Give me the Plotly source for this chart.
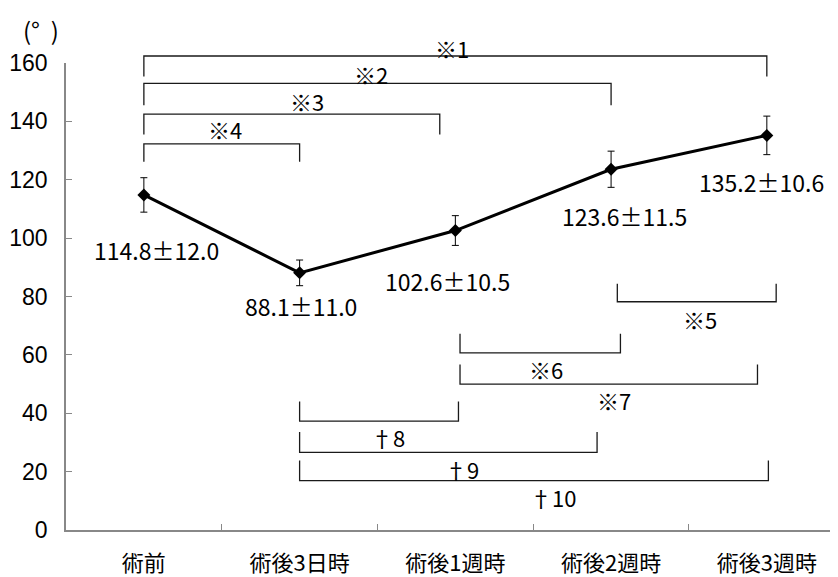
import plotly.graph_objects as go

# ---- data ----
categories = ["術前", "術後3日時", "術後1週時", "術後2週時", "術後3週時"]
means = [114.8, 88.1, 102.6, 123.6, 135.2]
sds = [12.0, 11.0, 10.5, 11.5, 10.6]
err_bars = [5.9, 4.4, 5.1, 6.2, 6.6]
y_ticks = [0, 20, 40, 60, 80, 100, 120, 140, 160]

# significance brackets: (label, x_start, x_end, y_line, y_end, label_x, label_y)
top_brackets = [
    ("※1", 0.0, 4.0, 162.4, 155.4, 1.98, 165.0),
    ("※2", 0.0, 3.0, 153.0, 145.5, 1.46, 156.2),
    ("※3", 0.0, 1.9, 142.5, 135.5, 1.05, 147.0),
    ("※4", 0.0, 1.0, 132.3, 126.2, 0.52, 137.4),
]
bottom_brackets = [
    ("※5", 3.04, 4.06, 78.2, 84.4, 3.57, 72.4),
    ("※6", 2.03, 3.06, 60.7, 67.2, 2.58, 55.2),
    ("※7", 2.03, 3.94, 50.0, 56.7, 3.02, 44.7),
    ("†8", 1.0, 2.02, 37.3, 44.0, 1.57, 31.9),
    ("†9", 1.0, 2.91, 26.6, 33.6, 2.04, 20.9),
    ("†10", 1.0, 4.01, 16.9, 23.8, 2.63, 11.2),
]

X_RANGE = [-0.5, 4.457]
Y_RANGE = [0, 160]


def px(xv):
    return (xv - X_RANGE[0]) / (X_RANGE[1] - X_RANGE[0])


def py(yv):
    return (yv - Y_RANGE[0]) / (Y_RANGE[1] - Y_RANGE[0])


JP = "Noto Sans CJK JP"

fig = go.Figure()
fig.add_trace(go.Scatter(
    x=categories, y=means, mode="lines+markers",
    line=dict(color="black", width=3),
    marker=dict(symbol="diamond", size=10, color="black"),
    error_y=dict(type="data", array=err_bars, visible=True, color="black", thickness=1, width=3.5),
    cliponaxis=False, showlegend=False,
))

shapes = []
annotations = []
line_style = dict(color="#1a1a1a", width=1.3)
for lab, x0, x1, yl, ye, lx, ly in top_brackets + bottom_brackets:
    path = "M {a},{e} L {a},{l} L {b},{l} L {b},{e}".format(
        a=px(x0), b=px(x1), l=py(yl), e=py(ye))
    shapes.append(dict(type="path", xref="paper", yref="paper", path=path, line=line_style))
    annotations.append(dict(text=lab, x=px(lx), y=py(ly), xref="paper", yref="paper",
                            showarrow=False, font=dict(family=JP, size=22, color="black"),
                            xanchor="center", yanchor="middle"))

label_dx = [13, 1, -8, 13, -5]
label_dy = [-55, -33, -50, -47, -47]
for c, m, s, dx, dy in zip(categories, means, sds, label_dx, label_dy):
    annotations.append(dict(text=f"{m:.1f}±{s:.1f}", x=c, y=m, xref="x", yref="y",
                            xshift=dx, yshift=dy, showarrow=False,
                            font=dict(family=JP, size=23, color="black"),
                            xanchor="center", yanchor="middle"))

annotations.append(dict(text="(°  )", x=0, y=1, xref="paper", yref="paper",
                        xshift=-45, yshift=34, showarrow=False,
                        font=dict(family=JP, size=24, color="black"),
                        xanchor="left", yanchor="middle"))

fig.update_layout(
    width=830, height=569,
    margin=dict(l=58, r=0, t=55, b=41),
    paper_bgcolor="white", plot_bgcolor="white",
    shapes=shapes, annotations=annotations,
    xaxis=dict(type="category", range=X_RANGE, showline=True, linecolor="#888", linewidth=1.5,
               ticks="inside", ticklen=6, tickcolor="#888", tickson="boundaries",
               showgrid=False, zeroline=False,
               tickfont=dict(family=JP, size=22, color="black"), ticklabelstandoff=13),
    yaxis=dict(range=Y_RANGE, tickvals=y_ticks, showline=True, linecolor="#888", linewidth=1.5,
               ticks="inside", ticklen=6, tickcolor="#888", showgrid=False, zeroline=False,
               tickfont=dict(family="Liberation Sans", size=23, color="black"),
               ticklabelstandoff=12),
)

fig.write_html("out.html")
